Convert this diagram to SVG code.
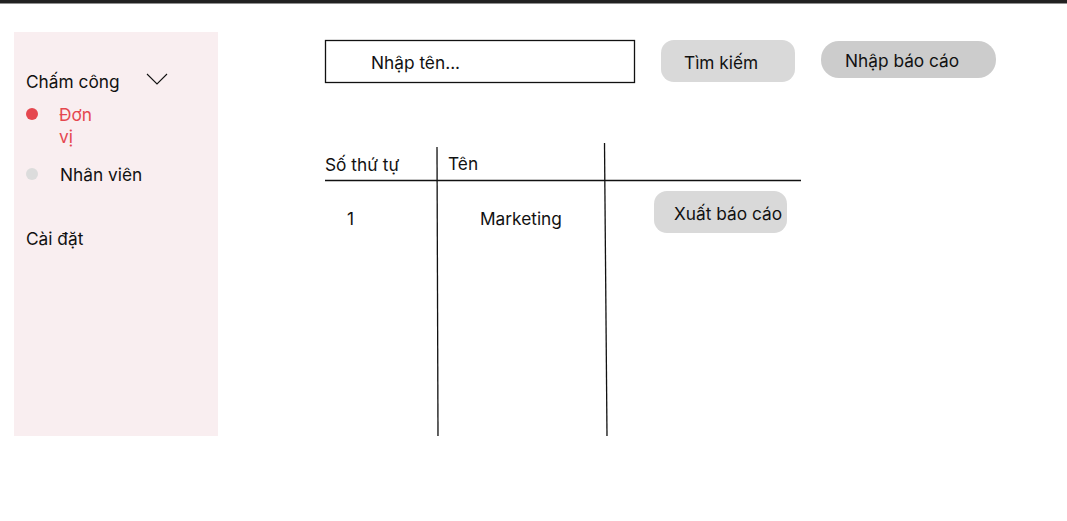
<svg xmlns="http://www.w3.org/2000/svg" width="1067" height="521" viewBox="0 0 1067 521">
<style>
text{font-family:Inter,"Noto Sans",sans-serif;font-size:17.3px;fill:#111}
.btn{fill:#d9d9d9}
.ln{stroke:#111;stroke-width:1.3;fill:none}
</style>
<rect width="1067" height="521" fill="#fff"/>
<rect x="0" y="0" width="1067" height="3.5" fill="#222"/>
<g id="sidebar">
<rect x="14" y="32" width="204" height="404" fill="#f9eef0"/>
<text x="26" y="88">Chấm công</text>
<path d="M147 74 L157 84 L167 74" stroke="#111" stroke-width="1.1" fill="none"/>
<circle cx="32" cy="114" r="6" fill="#e5474f"/>
<text x="59" y="121" style="fill:#e5474f">Đơn</text>
<text x="59" y="143" style="fill:#e5474f">vị</text>
<circle cx="32" cy="174" r="6" fill="#dcdcdc"/>
<text x="60" y="181">Nhân viên</text>
<text x="26" y="245">Cài đặt</text>
</g>
<g id="search-input">
<rect x="325.5" y="40.5" width="309" height="42" fill="#fff" stroke="#111" stroke-width="1.3"/>
<text x="371" y="69">Nhập tên...</text>
</g>
<g id="btn-search">
<rect x="661" y="40" width="134" height="42" rx="13" class="btn"/>
<text x="684" y="69">Tìm kiếm</text>
</g>
<g id="btn-import">
<rect x="821" y="41" width="175" height="37" rx="18" fill="#cccccc"/>
<text x="845" y="67">Nhập báo cáo</text>
</g>
<g id="connectors">
<line x1="325" y1="180.5" x2="801" y2="180.5" class="ln"/>
<line x1="437" y1="147" x2="438" y2="436" class="ln"/>
<line x1="604.5" y1="143" x2="607" y2="436" class="ln"/>
</g>
<g id="table">
<text x="325" y="171">Số thứ tự</text>
<text x="448" y="170">Tên</text>
<text x="347" y="225">1</text>
<text x="480" y="225">Marketing</text>
</g>
<g id="btn-export">
<rect x="654" y="191" width="133" height="42" rx="13" class="btn"/>
<text x="674" y="220">Xuất báo cáo</text>
</g>
</svg>
